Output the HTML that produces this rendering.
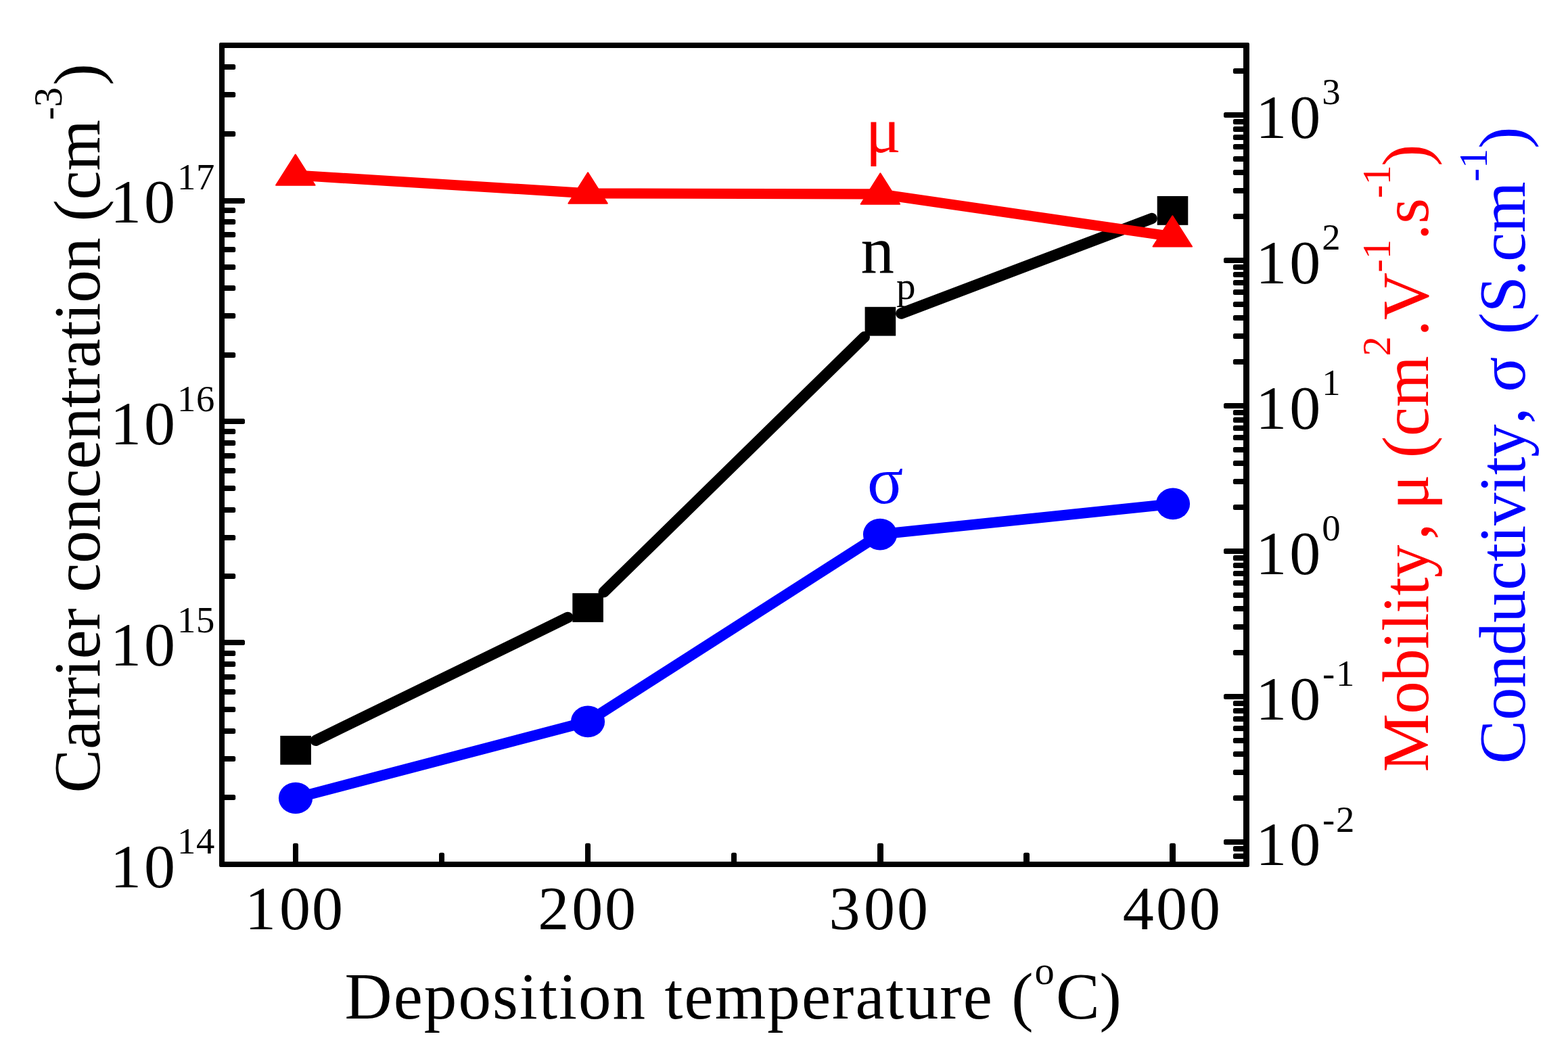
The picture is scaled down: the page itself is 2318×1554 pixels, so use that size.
<!DOCTYPE html>
<html lang="en"><head><meta charset="utf-8"><title>Carrier concentration, mobility and conductivity vs deposition temperature</title>
<style>html,body{margin:0;padding:0;background:#fff;}body{width:2318px;height:1554px;overflow:hidden;}svg{display:block;}text{font-family:'Liberation Serif','Times New Roman',Times,serif;}</style>
</head><body>
<svg xmlns="http://www.w3.org/2000/svg" width="2318" height="1554" viewBox="0 0 2318 1554">
<rect x="0" y="0" width="2318" height="1554" fill="#fff"/>
<g fill="#000">
<rect x="326" y="1175" width="22.2" height="8" rx="2.5"/>
<rect x="326" y="1118" width="22.2" height="8" rx="2.5"/>
<rect x="326" y="1077" width="22.2" height="8" rx="2.5"/>
<rect x="326" y="1045" width="22.2" height="8" rx="2.5"/>
<rect x="326" y="1019" width="22.2" height="8" rx="2.5"/>
<rect x="326" y="997" width="22.2" height="8" rx="2.5"/>
<rect x="326" y="978" width="22.2" height="8" rx="2.5"/>
<rect x="326" y="962" width="22.2" height="8" rx="2.5"/>
<rect x="326" y="946" width="36" height="8" rx="2.5"/>
<rect x="326" y="848" width="22.2" height="8" rx="2.5"/>
<rect x="326" y="791" width="22.2" height="8" rx="2.5"/>
<rect x="326" y="750" width="22.2" height="8" rx="2.5"/>
<rect x="326" y="718" width="22.2" height="8" rx="2.5"/>
<rect x="326" y="692" width="22.2" height="8" rx="2.5"/>
<rect x="326" y="670" width="22.2" height="8" rx="2.5"/>
<rect x="326" y="651" width="22.2" height="8" rx="2.5"/>
<rect x="326" y="634" width="22.2" height="8" rx="2.5"/>
<rect x="326" y="619" width="36" height="8" rx="2.5"/>
<rect x="326" y="521" width="22.2" height="8" rx="2.5"/>
<rect x="326" y="463" width="22.2" height="8" rx="2.5"/>
<rect x="326" y="422" width="22.2" height="8" rx="2.5"/>
<rect x="326" y="391" width="22.2" height="8" rx="2.5"/>
<rect x="326" y="365" width="22.2" height="8" rx="2.5"/>
<rect x="326" y="343" width="22.2" height="8" rx="2.5"/>
<rect x="326" y="324" width="22.2" height="8" rx="2.5"/>
<rect x="326" y="307" width="22.2" height="8" rx="2.5"/>
<rect x="326" y="293" width="36" height="8" rx="2.5"/>
<rect x="326" y="194" width="22.2" height="8" rx="2.5"/>
<rect x="326" y="136" width="22.2" height="8" rx="2.5"/>
<rect x="326" y="95" width="22.2" height="8" rx="2.5"/>
<rect x="1822.9" y="1262" width="22.1" height="8" rx="2.5"/>
<rect x="1822.9" y="1251" width="22.1" height="8" rx="2.5"/>
<rect x="1809" y="1241" width="36" height="8" rx="2.5"/>
<rect x="1822.9" y="1176" width="22.1" height="8" rx="2.5"/>
<rect x="1822.9" y="1138" width="22.1" height="8" rx="2.5"/>
<rect x="1822.9" y="1111" width="22.1" height="8" rx="2.5"/>
<rect x="1822.9" y="1091" width="22.1" height="8" rx="2.5"/>
<rect x="1822.9" y="1073" width="22.1" height="8" rx="2.5"/>
<rect x="1822.9" y="1059" width="22.1" height="8" rx="2.5"/>
<rect x="1822.9" y="1047" width="22.1" height="8" rx="2.5"/>
<rect x="1822.9" y="1036" width="22.1" height="8" rx="2.5"/>
<rect x="1809" y="1026" width="36" height="8" rx="2.5"/>
<rect x="1822.9" y="961" width="22.1" height="8" rx="2.5"/>
<rect x="1822.9" y="923" width="22.1" height="8" rx="2.5"/>
<rect x="1822.9" y="896" width="22.1" height="8" rx="2.5"/>
<rect x="1822.9" y="876" width="22.1" height="8" rx="2.5"/>
<rect x="1822.9" y="858" width="22.1" height="8" rx="2.5"/>
<rect x="1822.9" y="844" width="22.1" height="8" rx="2.5"/>
<rect x="1822.9" y="832" width="22.1" height="8" rx="2.5"/>
<rect x="1822.9" y="821" width="22.1" height="8" rx="2.5"/>
<rect x="1809" y="811" width="36" height="8" rx="2.5"/>
<rect x="1822.9" y="746" width="22.1" height="8" rx="2.5"/>
<rect x="1822.9" y="708" width="22.1" height="8" rx="2.5"/>
<rect x="1822.9" y="681" width="22.1" height="8" rx="2.5"/>
<rect x="1822.9" y="661" width="22.1" height="8" rx="2.5"/>
<rect x="1822.9" y="643" width="22.1" height="8" rx="2.5"/>
<rect x="1822.9" y="629" width="22.1" height="8" rx="2.5"/>
<rect x="1822.9" y="617" width="22.1" height="8" rx="2.5"/>
<rect x="1822.9" y="606" width="22.1" height="8" rx="2.5"/>
<rect x="1809" y="596" width="36" height="8" rx="2.5"/>
<rect x="1822.9" y="531" width="22.1" height="8" rx="2.5"/>
<rect x="1822.9" y="493" width="22.1" height="8" rx="2.5"/>
<rect x="1822.9" y="466" width="22.1" height="8" rx="2.5"/>
<rect x="1822.9" y="446" width="22.1" height="8" rx="2.5"/>
<rect x="1822.9" y="428" width="22.1" height="8" rx="2.5"/>
<rect x="1822.9" y="414" width="22.1" height="8" rx="2.5"/>
<rect x="1822.9" y="402" width="22.1" height="8" rx="2.5"/>
<rect x="1822.9" y="391" width="22.1" height="8" rx="2.5"/>
<rect x="1809" y="381" width="36" height="8" rx="2.5"/>
<rect x="1822.9" y="316" width="22.1" height="8" rx="2.5"/>
<rect x="1822.9" y="278" width="22.1" height="8" rx="2.5"/>
<rect x="1822.9" y="251" width="22.1" height="8" rx="2.5"/>
<rect x="1822.9" y="231" width="22.1" height="8" rx="2.5"/>
<rect x="1822.9" y="213" width="22.1" height="8" rx="2.5"/>
<rect x="1822.9" y="199" width="22.1" height="8" rx="2.5"/>
<rect x="1822.9" y="187" width="22.1" height="8" rx="2.5"/>
<rect x="1822.9" y="176" width="22.1" height="8" rx="2.5"/>
<rect x="1809" y="166" width="36" height="8" rx="2.5"/>
<rect x="1822.9" y="101" width="22.1" height="8" rx="2.5"/>
<rect x="433" y="1246.8" width="8" height="33.2" rx="2.5"/>
<rect x="649" y="1260.7" width="8" height="19.3" rx="2.5"/>
<rect x="865" y="1246.8" width="8" height="33.2" rx="2.5"/>
<rect x="1081" y="1260.7" width="8" height="19.3" rx="2.5"/>
<rect x="1297" y="1246.8" width="9" height="33.2" rx="2.5"/>
<rect x="1513" y="1260.7" width="9" height="19.3" rx="2.5"/>
<rect x="1729" y="1246.8" width="9" height="33.2" rx="2.5"/>
<path fill-rule="evenodd" d="M326 63H1845Q1847 63 1847 65V1280Q1847 1282 1845 1282H326Q324 1282 324 1280V65Q324 63 326 63Z M332 71V1274H1838V71Z"/>
</g>
<g stroke="#000" stroke-width="16.4" stroke-linecap="round" fill="none">
<line x1="466.76" y1="1094.83" x2="839.44" y2="912.97"/>
<line x1="892.68" y1="875.41" x2="1277.82" y2="498.29"/>
<line x1="1332.26" y1="463.5" x2="1702.64" y2="323.1"/>
</g>
<g fill="#000">
<rect x="414.3" y="1087.9" width="45.6" height="42.8"/>
<rect x="846.3" y="877.1" width="45.6" height="42.8"/>
<rect x="1278.6" y="453.8" width="45.6" height="42.8"/>
<rect x="1710.7" y="290" width="45.6" height="42.8"/>
</g>
<polyline points="437,1180 869,1066.9 1301,790.1 1734,744.9" fill="none" stroke="#0000ff" stroke-width="15.6" stroke-linejoin="round"/>
<g fill="#0000ff">
<ellipse cx="437" cy="1180" rx="25.1" ry="23.3"/>
<ellipse cx="869" cy="1066.9" rx="25.1" ry="23.3"/>
<ellipse cx="1301" cy="790.1" rx="25.1" ry="23.3"/>
<ellipse cx="1734" cy="744.9" rx="25.1" ry="23.3"/>
</g>
<polyline points="436.8,259 869.1,285.9 1301.4,286.9 1733.3,349.8" fill="none" stroke="#ff0000" stroke-width="15.2" stroke-linejoin="round"/>
<g fill="#ff0000" stroke="#ff0000" stroke-width="2" stroke-linejoin="round">
<polygon points="436.8,228.5 465.55,273.8 408.05,273.8"/>
<polygon points="869.1,255.4 897.85,300.7 840.35,300.7"/>
<polygon points="1301.4,256.4 1330.15,301.7 1272.65,301.7"/>
<polygon points="1733.3,319.3 1762.05,364.6 1704.55,364.6"/>
</g>
<g fill="#000" font-size="92">
<text x="163.1 212.9" y="329">10<tspan font-size="54.7" x="262.1 290" dy="-49">17</tspan></text>
<text x="163.1 212.9" y="657">10<tspan font-size="54.7" x="262.1 290" dy="-49.5">16</tspan></text>
<text x="163.1 212.9" y="984">10<tspan font-size="54.7" x="262.1 290" dy="-49.5">15</tspan></text>
<text x="163.1 212.9" y="1312">10<tspan font-size="54.7" x="262.1 290" dy="-50">14</tspan></text>
<text x="1856.2 1906.2" y="204">10<tspan font-size="54.7" x="1954.3" dy="-49.7">3</tspan></text>
<text x="1856.2 1906.2" y="419">10<tspan font-size="54.7" x="1954.3" dy="-50">2</tspan></text>
<text x="1856.2 1906.2" y="634">10<tspan font-size="54.7" x="1954.3" dy="-50">1</tspan></text>
<text x="1856.2 1906.2" y="849">10<tspan font-size="54.7" x="1954.3" dy="-50">0</tspan></text>
<text x="1856.2 1906.2" y="1064">10<tspan font-size="54.7" x="1955 1975" dy="-50.4">-1</tspan></text>
<text x="1856.2 1906.2" y="1279">10<tspan font-size="54.7" x="1955 1975" dy="-48.8">-2</tspan></text>
<text x="362.05 412.95 460.95" y="1374">100</text>
<text x="795.35 845.15 894.05" y="1374">200</text>
<text x="1225.55 1277.05 1325.95" y="1374">300</text>
<text x="1659.75 1708.95 1757.95" y="1374">400</text>
</g>
<text x="509.5" y="1506.1" font-size="97" fill="#000" letter-spacing="2.1">Deposition temperature (<tspan font-size="58.5" dy="-51">o</tspan><tspan dy="51">C</tspan><tspan dx="-2.2">)</tspan></text>
<text transform="translate(146.9,1172.5) rotate(-90)" font-size="97" fill="#000" letter-spacing="-0.27">Carrier concentration (cm<tspan font-size="58.5" dy="-56.2">-3</tspan><tspan dx="3" dy="56.2">)</tspan></text>
<text transform="translate(2111,1141.5) rotate(-90)" font-size="97" fill="#ff0000"><tspan letter-spacing="-0.5">Mobility</tspan><tspan dx="8">,</tspan><tspan dx="-4"> μ (cm</tspan><tspan font-size="58.5" dy="-56.2">2</tspan><tspan dy="56.2">.V</tspan><tspan font-size="58.5" dy="-56.2">-1</tspan><tspan dx="-1" dy="56.2">.s</tspan><tspan font-size="58.5" dy="-56.2">-1</tspan><tspan dx="-1.5" dy="56.2">)</tspan></text>
<text transform="translate(2254.1,1129.4) rotate(-90)" font-size="97" fill="#0000ff"><tspan letter-spacing="-0.4">Conductivity</tspan><tspan dx="1">,</tspan><tspan dx="-1.5"> σ </tspan><tspan dx="8.5">(S.</tspan><tspan dx="-3">cm</tspan><tspan font-size="58.5" dy="-56.2">-1</tspan><tspan dy="56.2">)</tspan></text>
<text x="1279.5" y="224.6" font-size="98" fill="#ff0000">μ</text>
<text x="1272.5" y="402.9" font-size="99" fill="#000">n<tspan font-size="57" dx="3" dy="39.5">p</tspan></text>
<text x="1282" y="744" font-size="99" fill="#0000ff">σ</text>
</svg>
</body></html>
